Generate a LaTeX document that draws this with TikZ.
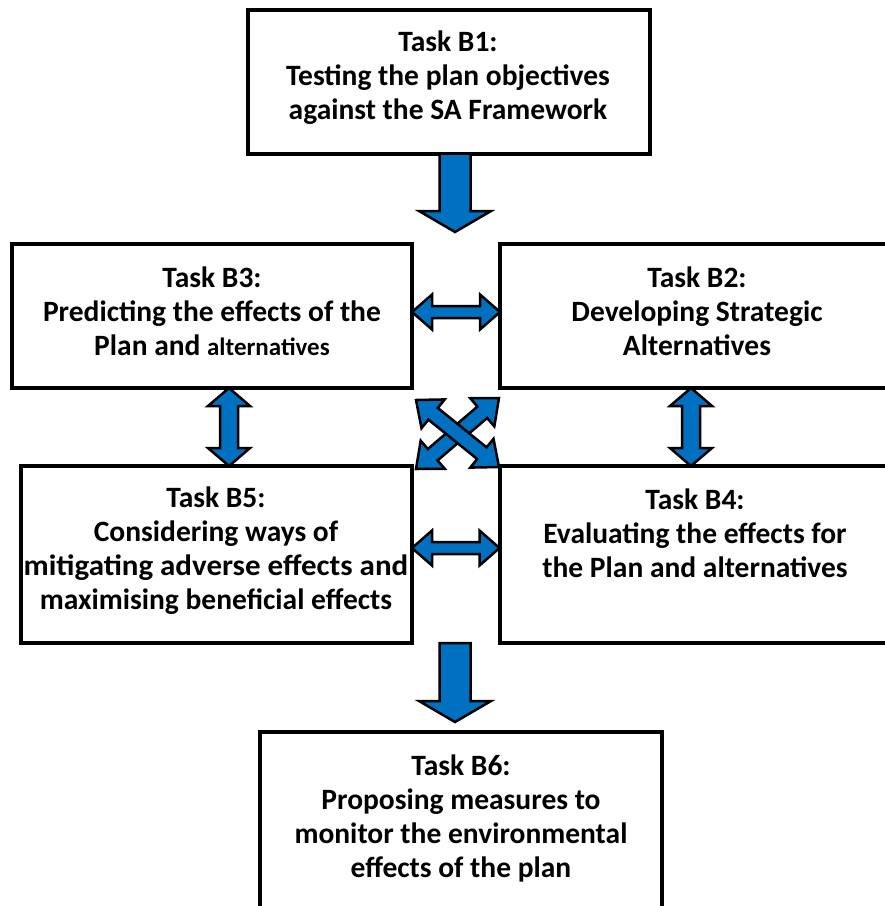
\documentclass[tikz,border=0pt]{standalone}
\usepackage{fontspec}
\setmainfont{Carlito}
\usetikzlibrary{calc}
\definecolor{arrowblue}{RGB}{0,112,192}
\tikzset{
 box/.style={draw=black, line width=4pt, fill=white, inner sep=0pt, outer sep=0pt},
 lbl/.style={font=\bfseries\fontsize{29.5}{34}\selectfont, align=center, inner sep=0pt},
 barrow/.style={draw=black, line width=2.5pt, fill=arrowblue, line join=miter},
}
% double block arrow: #1 start, #2 end, #3 head length, #4 head half width, #5 shaft half width
\newcommand\dblarr[5]{%
\draw[barrow] (#1)
 -- ($(#1)!#3!(#2)+(#1)!#4!90:(#2)-(#1)$)
 -- ($(#1)!#3!(#2)+(#1)!#5!90:(#2)-(#1)$)
 -- ($(#2)!#3!(#1)+(#2)!#5!-90:(#1)-(#2)$)
 -- ($(#2)!#3!(#1)+(#2)!#4!-90:(#1)-(#2)$)
 -- (#2)
 -- ($(#2)!#3!(#1)+(#2)!#4!90:(#1)-(#2)$)
 -- ($(#2)!#3!(#1)+(#2)!#5!90:(#1)-(#2)$)
 -- ($(#1)!#3!(#2)+(#1)!#5!-90:(#2)-(#1)$)
 -- ($(#1)!#3!(#2)+(#1)!#4!-90:(#2)-(#1)$)
 -- cycle;}
% single block arrow
\newcommand\sglarr[5]{%
\draw[barrow] ($(#1)!#5!90:(#2)$)
 -- ($(#2)!#3!(#1)+(#2)!#5!-90:(#1)-(#2)$)
 -- ($(#2)!#3!(#1)+(#2)!#4!-90:(#1)-(#2)$)
 -- (#2)
 -- ($(#2)!#3!(#1)+(#2)!#4!90:(#1)-(#2)$)
 -- ($(#2)!#3!(#1)+(#2)!#5!90:(#1)-(#2)$)
 -- ($(#1)!#5!-90:(#2)$)
 -- cycle;}
\begin{document}
\begin{tikzpicture}[x=1pt,y=-1pt]
\useasboundingbox (0,0) rectangle (885,906);
\fill[white] (0,0) rectangle (885,906);
% boxes
\node[box, minimum width=402pt, minimum height=144pt] (b1) at (448.5,81.5) {};
\node[box, minimum width=400pt, minimum height=144pt] (b3) at (212,316) {};
\node[box, minimum width=400pt, minimum height=144pt] (b2) at (699.5,316) {};
\node[box, minimum width=391.5pt, minimum height=177pt] (b5) at (216.25,554.5) {};
\node[box, minimum width=400pt, minimum height=177pt] (b4) at (699.5,554.5) {};
\node[box, minimum width=401.5pt, minimum height=180.5pt] (b6) at (460.75,821.75) {};
% texts
\node[lbl] (t1) at (448,78) {Task B1:\\Testing the plan objectives\\against the SA Framework};
\node[lbl] (t3) at (212,311.5) {Task B3:\\Predicting the effects of the\\Plan and {\fontsize{25}{34}\selectfont alternatives}};
\node[lbl] (t2) at (697,311.5) {Task B2:\\Developing Strategic\\Alternatives};
\node[lbl] (t5) at (216,550.5) {Task B5:\\Considering ways of\\\scalebox{1.05}[1]{mitigating adverse effects and}\\maximising beneficial effects};
\node[lbl] (t4) at (695,533.5) {Task B4:\\Evaluating the effects for\\the Plan and alternatives};
\node[lbl] (t6) at (461,818) {Task B6:\\Proposing measures to\\monitor the environmental\\effects of the plan};
% connector end points
\coordinate (d1s) at (455,153.5);
\coordinate (d1e) at (455,232);
\coordinate (d2s) at (455,643);
\coordinate (d2e) at (455,722);
\coordinate (h1s) at (412,312);
\coordinate (h1e) at (500,312);
\coordinate (h2s) at (412,548);
\coordinate (h2e) at (499.5,548);
\coordinate (v1s) at (229,388);
\coordinate (v1e) at (229,466);
\coordinate (v2s) at (691,388);
\coordinate (v2e) at (691,466);
\coordinate (x1s) at (416,469);
\coordinate (x1e) at (499,398);
\coordinate (x2s) at (416,400);
\coordinate (x2e) at (499,467);
% arrows
\sglarr{d1s}{d1e}{21pt}{36pt}{15.5pt}
\sglarr{d2s}{d2e}{21pt}{36pt}{15.5pt}
\dblarr{h1s}{h1e}{20pt}{17.5pt}{6pt}
\dblarr{h2s}{h2e}{20pt}{17.5pt}{6pt}
\dblarr{v1s}{v1e}{18pt}{21pt}{9pt}
\dblarr{v2s}{v2e}{18pt}{21pt}{9pt}
\dblarr{x1s}{x1e}{22pt}{18.5pt}{7.5pt}
\dblarr{x2s}{x2e}{22pt}{18.5pt}{7.5pt}
\end{tikzpicture}
\end{document}
